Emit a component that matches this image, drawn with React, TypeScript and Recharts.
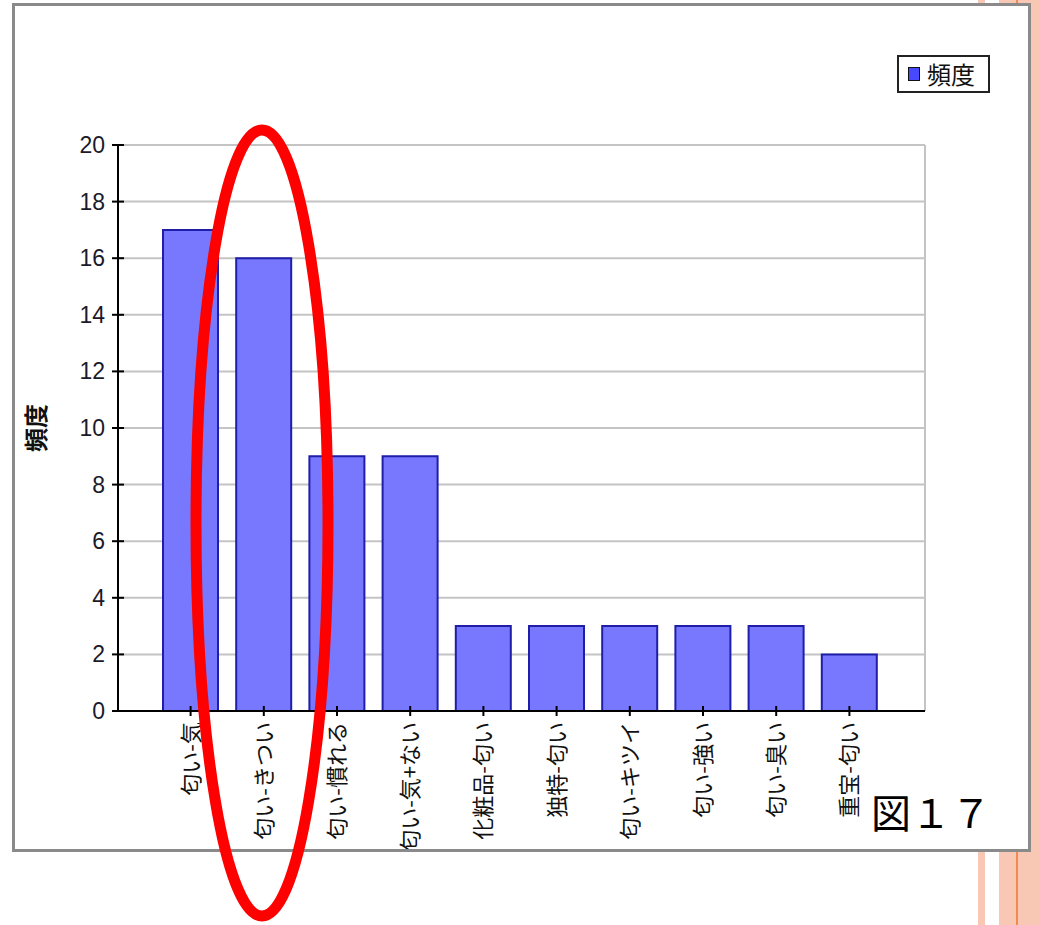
import React from 'react';
import { BarChart, Bar, XAxis, YAxis, CartesianGrid, Legend } from 'recharts';

const categories = [
  '匂い-気',
  '匂い-きつい',
  '匂い-慣れる',
  '匂い-気+ない',
  '化粧品-匂い',
  '独特-匂い',
  '匂い-キツイ',
  '匂い-強い',
  '匂い-臭い',
  '重宝-匂い',
];
const frequencies = [17, 16, 9, 9, 3, 3, 3, 3, 3, 2];
const yTicks = [0, 2, 4, 6, 8, 10, 12, 14, 16, 18, 20];
const seriesName = '頻度';
const axisTitle = '頻度';
const figureLabel = '図１７';

const data = categories.map((c, i) => ({ name: c, freq: frequencies[i] }));

const CJK = "'Noto Sans CJK JP', 'Noto Sans', sans-serif";
const SANS = "'Liberation Sans', Arial, sans-serif";

const YTick = (props: any) => {
  const { x, y, payload } = props;
  return (
    <g>
      <line x1={x - 6} x2={x + 6} y1={y} y2={y} stroke="#000" strokeWidth={2} />
      <text x={x - 13} y={y} textAnchor="end" dominantBaseline="central" fontSize={23} fontFamily={SANS} fill="#1a1a2a">
        {payload.value}
      </text>
    </g>
  );
};

const XTick = (props: any) => {
  const { x, y, payload } = props;
  return (
    <g>
      <line x1={x} x2={x} y1={y - 5} y2={y + 5} stroke="#000" strokeWidth={2} />
      <text
        transform={`translate(${x - 2},${y + 11}) rotate(-90)`}
        textAnchor="end"
        dominantBaseline="central"
        fontSize={22}
        fontFamily={CJK}
        fill="#111"
      >
        {payload.value}
      </text>
    </g>
  );
};

const LegendBox = () => (
  <div
    style={{
      border: '2px solid #222',
      background: '#fff',
      width: 89,
      height: 34,
      display: 'flex',
      alignItems: 'center',
      boxSizing: 'content-box',
    }}
  >
    <div style={{ width: 10, height: 12, background: '#4848ff', border: '1.5px solid #111', marginLeft: 9, marginRight: 7 }} />
    <span style={{ fontFamily: CJK, fontSize: 24, color: '#111', lineHeight: '34px' }}>{seriesName}</span>
  </div>
);

export default function App() {
  return (
    <div style={{ position: 'absolute', left: 0, top: 0, width: 1039, height: 925, background: '#fff', overflow: 'hidden' }}>
      {/* slide background stripes */}
      <div style={{ position: 'absolute', left: 978, top: 0, width: 7, height: 925, background: '#f9c8b4' }} />
      <div style={{ position: 'absolute', left: 999, top: 0, width: 40, height: 925, background: '#f9c8b4' }} />
      <div style={{ position: 'absolute', left: 1016, top: 0, width: 2, height: 925, background: '#f08a50' }} />

      {/* frame */}
      <div
        style={{
          position: 'absolute',
          left: 12,
          top: 3,
          width: 1019,
          height: 849,
          boxSizing: 'border-box',
          border: '3px solid #8a8a8a',
          background: '#fff',
          overflow: 'hidden',
        }}
      >
        <div style={{ position: 'absolute', left: -15, top: -6 }}>
          <BarChart width={1039} height={925} data={data} margin={{ top: 145, right: 114, left: 0, bottom: 0 }}>
            <CartesianGrid
              stroke="#c4c4c4"
              strokeWidth={2}
              verticalCoordinatesGenerator={({ offset }: any) => [offset.left + offset.width]}
            />
            <XAxis
              dataKey="name"
              height={214}
              interval={0}
              tickLine={false}
              tickSize={0}
              tickMargin={0}
              tick={<XTick />}
              axisLine={{ stroke: '#000', strokeWidth: 2 }}
              padding={{ left: 36, right: 39 }}
            />
            <YAxis
              width={118}
              domain={[0, 20]}
              ticks={yTicks}
              interval={0}
              tickLine={false}
              tickSize={0}
              tickMargin={0}
              tick={<YTick />}
              axisLine={{ stroke: '#000', strokeWidth: 2 }}
              label={{
                value: axisTitle,
                angle: -90,
                position: 'center',
                dx: -23,
                style: { fontFamily: CJK, fontSize: 24, fontWeight: 'bold', fill: '#111' },
              }}
            />
            <Legend
              layout="horizontal"
              verticalAlign="middle"
              align="center"
              content={() => <LegendBox />}
              wrapperStyle={{ position: 'absolute', left: 897, top: 55, width: 'auto' }}
            />
            <Bar
              dataKey="freq"
              name={seriesName}
              fill="#7878ff"
              stroke="#1e1ea8"
              strokeWidth={2}
              barSize={55}
              isAnimationActive={false}
            />
          </BarChart>
        </div>
        <div
          style={{
            position: 'absolute',
            left: 856,
            top: 780,
            fontFamily: CJK,
            fontSize: 40,
            lineHeight: '50px',
            color: '#000',
            letterSpacing: 0,
          }}
        >
          {figureLabel}
        </div>
      </div>

      {/* red annotation ellipse */}
      <svg width={1039} height={925} style={{ position: 'absolute', left: 0, top: 0, pointerEvents: 'none' }}>
        <ellipse cx={262} cy={523} rx={66} ry={393} fill="none" stroke="#ff0000" strokeWidth={11} />
      </svg>
    </div>
  );
}
